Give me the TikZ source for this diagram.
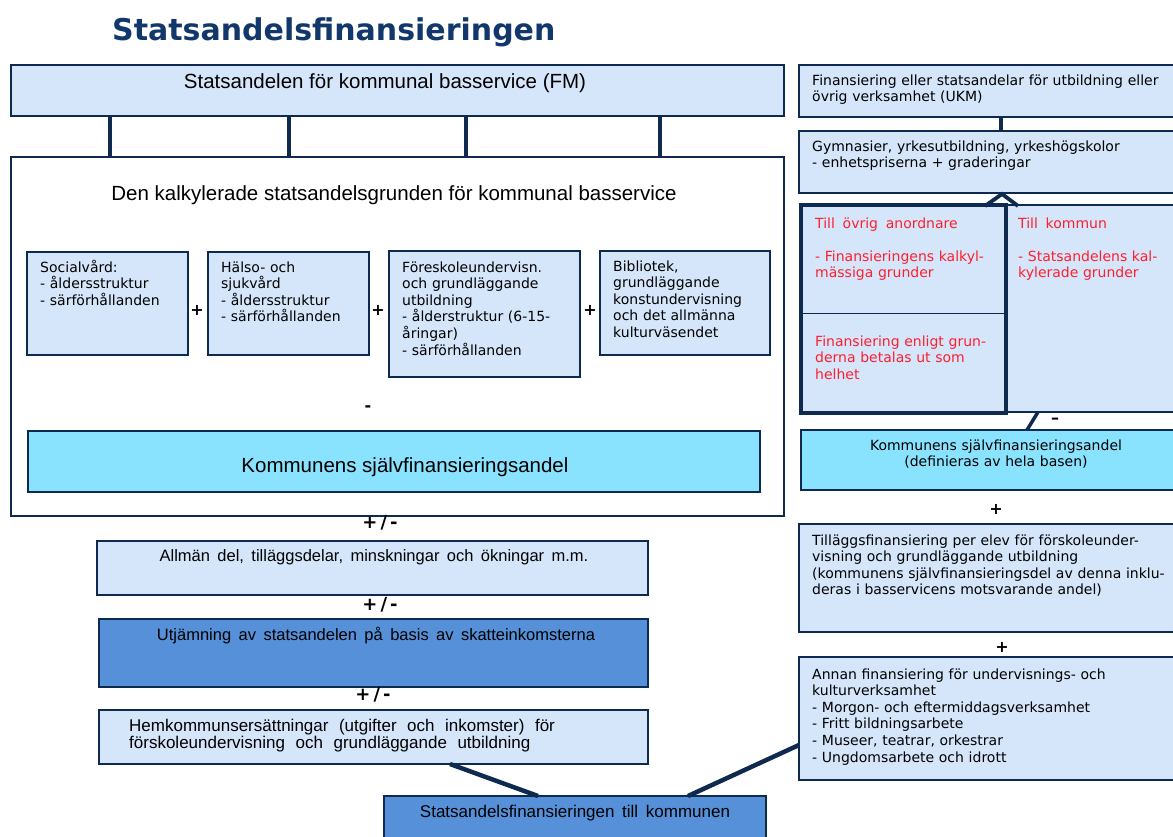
\documentclass[tikz,border=0pt]{standalone}
\usepackage{fontspec}
\setmainfont{DejaVu Sans}
\newfontfamily\tahn{Liberation Sans}
\newcommand\setsp[1]{\spaceskip #1\relax}
\usetikzlibrary{calc}
\definecolor{navy}{HTML}{0F2A4F}
\definecolor{lblue}{HTML}{D5E6FB}
\definecolor{cyanbox}{HTML}{8AE3FE}
\definecolor{mblue}{HTML}{5590D8}
\definecolor{titleblue}{HTML}{12386B}
\definecolor{redtxt}{HTML}{FF1F2E}
\begin{document}
\begin{tikzpicture}[x=1pt,y=-1pt,
  bx/.style={draw=navy, line width=2.6pt, fill=lblue, rectangle, anchor=north west, inner sep=0pt, outer sep=0pt},
  conn/.style={draw=navy, line width=3.5pt},
  vtxt/.style={font=\fontsize{14}{16.6}\selectfont, anchor=base west, inner sep=0pt, align=left},
  ttxt/.style={font={\tahn\fontsize{16.5}{17}\selectfont\setsp{0.45em}}, inner sep=0pt, anchor=base},
  sign/.style={font=\bfseries\fontsize{16}{18}\selectfont, inner sep=0pt},
  pmsign/.style={font=\bfseries\fontsize{18}{20}\selectfont, inner sep=0pt}]
\useasboundingbox (0,0) rectangle (1173,836);

% title
\node[anchor=base west, inner sep=0pt, text=titleblue, font=\bfseries\fontsize{30}{36}\selectfont] (title) at (112,40) {Statsandelsfinansieringen};

% ---------- left column ----------
\node[bx, minimum width=773, minimum height=51] (fm) at (11,65) {};
\node[ttxt, font=\tahn\fontsize{20.5}{24}\selectfont] (fmt) at (385,88) {Statsandelen för kommunal basservice (FM)};

\node[bx, fill=white, minimum width=773, minimum height=359] (big) at (11,157) {};
\node[ttxt, font=\tahn\fontsize{20.5}{24}\selectfont] (bigt) at (394,200) {Den kalkylerade statsandelsgrunden för kommunal basservice};

\foreach \dx in {99,278,455,649}
  \draw[conn] ($(fm.south west)+(\dx,0)$) -- ($(big.north west)+(\dx,0)$);

\node[bx, minimum width=161, minimum height=103] (soc) at (27,252) {};
\node[vtxt, text width=150] (soct) at (40,272) {Socialvård:\\- åldersstruktur\\- särförhållanden};
\node[bx, minimum width=161, minimum height=103] (hal) at (208,252) {};
\node[vtxt, text width=150] (halt) at (221,272) {Hälso- och\\sjukvård\\- åldersstruktur\\- särförhållanden};
\node[bx, minimum width=191, minimum height=126] (fore) at (389,251) {};
\node[vtxt, text width=180] (foret) at (402,272) {Föreskoleundervisn.\\och grundläggande\\utbildning\\- ålderstruktur (6-15-\\åringar)\\- särförhållanden};
\node[bx, minimum width=170, minimum height=104] (bib) at (600,251) {};
\node[vtxt, text width=160] (bibt) at (613,271) {Bibliotek,\\grundläggande\\konstundervisning\\och det allmänna\\kulturväsendet};

\node[sign] (p1) at (197,310) {+};
\node[sign] (p2) at (378,310) {+};
\node[sign] (p3) at (590,310) {+};
\node[sign] (m1) at (368,409) {-};

\node[bx, fill=cyanbox, minimum width=732, minimum height=61] (kom) at (28,431) {};
\node[ttxt, font=\tahn\fontsize{20.5}{24}\selectfont] (komt) at (405,472) {Kommunens självfinansieringsandel};

\node[pmsign] (pm1) at (380,523) {+\,/\,-};
\node[bx, minimum width=551, minimum height=54] (allm) at (97,541) {};
\node[ttxt] (allmt) at (374,561) {Allmän del, tilläggsdelar, minskningar och ökningar m.m.};
\node[pmsign] (pm2) at (380,605) {+\,/\,-};
\node[bx, fill=mblue, minimum width=549, minimum height=68] (utj) at (99,619) {};
\node[ttxt] (utjt) at (376,640) {Utjämning av statsandelen på basis av skatteinkomsterna};
\node[pmsign] (pm3) at (373,695) {+\,/\,-};
\node[bx, minimum width=549, minimum height=54] (hem) at (99,710) {};
\node[ttxt, font={\tahn\fontsize{17}{17}\selectfont}, anchor=base west, text width=520, align=left] (hemt) at (129,731) {\setsp{0.62em}Hemkommunsersättningar (utgifter och inkomster) för\\förskoleundervisning och grundläggande utbildning};

\node[bx, fill=mblue, minimum width=382, minimum height=70] (fin) at (384,796) {};
\node[ttxt, font={\tahn\fontsize{17}{17}\selectfont\setsp{0.45em}}] (fint) at (575,817) {Statsandelsfinansieringen till kommunen};

% ---------- right column ----------
\node[bx, minimum width=400, minimum height=52] (ukm) at (799,65) {};
\node[vtxt, text width=360] (ukmt) at (812,85) {Finansiering eller statsandelar för utbildning eller\\övrig verksamhet (UKM)};
\node[bx, minimum width=400, minimum height=62] (gym) at (799,131) {};
\node[vtxt, text width=360] (gymt) at (812,151) {Gymnasier, yrkesutbildning, yrkeshögskolor\\- enhetspriserna + graderingar};
\draw[conn] ($(ukm.south west)+(202,0)$) -- ($(gym.north west)+(202,0)$);

\node[bx, minimum width=200, minimum height=207] (redR) at (1006,205) {};
\node[bx, line width=4.2pt, minimum width=205, minimum height=208] (redL) at (801,205) {};
\draw[navy, line width=1pt] ($(redL.north west)+(-2,108)$) -- ($(redL.north east)+(0,108)$);
\node[vtxt, text=redtxt, text width=190] (redLt) at (815,228) {Till\hspace{0.55em}övrig\hspace{0.55em}anordnare\\[16.6pt]- Finansieringens kalkyl-\\mässiga grunder};
\node[vtxt, text=redtxt, text width=190] (redLt2) at (815,346) {Finansiering enligt grun-\\derna betalas ut som\\helhet};
\node[vtxt, text=redtxt, text width=150] (redRt) at (1018,228) {Till\hspace{0.55em}kommun\\[16.6pt]- Statsandelens kal-\\kylerade grunder};
\draw[conn, line width=3.8pt] ($(redL.north east)+(-21,1)$) -- ($(gym.south west)+(203,1)$) -- ($(redR.north west)+(12,1)$);

\node[sign, font=\bfseries\fontsize{16}{18}\selectfont] (m2) at (1055,421) {--};
\node[bx, fill=cyanbox, minimum width=400, minimum height=60] (komR) at (801,430) {};
\node[vtxt, anchor=base, align=center, text width=360] (komRt) at (996,450) {Kommunens självfinansieringsandel\\(definieras av hela basen)};
\draw[conn] ($(redR.south west)+(32,0)$) -- ($(komR.north west)+(226,0)$);

\node[sign] (p4) at (996,509) {+};
\node[bx, minimum width=400, minimum height=108] (till) at (799,524) {};
\node[vtxt, text width=370] (tillt) at (812,545) {Tilläggsfinansiering per elev för förskoleunder-\\visning och grundläggande utbildning\\(kommunens självfinansieringsdel av denna inklu-\\deras i basservicens motsvarande andel)};

\node[sign] (p5) at (1002,647) {+};
\node[bx, minimum width=400, minimum height=123] (annan) at (799,657) {};
\node[vtxt, text width=370] (annant) at (812,679) {Annan finansiering för undervisnings- och\\kulturverksamhet\\- Morgon- och eftermiddagsverksamhet\\- Fritt bildningsarbete\\- Museer, teatrar, orkestrar\\- Ungdomsarbete och idrott};

% bottom connectors
\draw[conn, line width=4.5pt] ($(hem.south west)+(351,0)$) -- ($(fin.north west)+(154,0)$);
\draw[conn, line width=4.5pt] ($(annan.north west)+(0,88)$) -- ($(fin.north west)+(304,0)$);
\end{tikzpicture}
\end{document}
